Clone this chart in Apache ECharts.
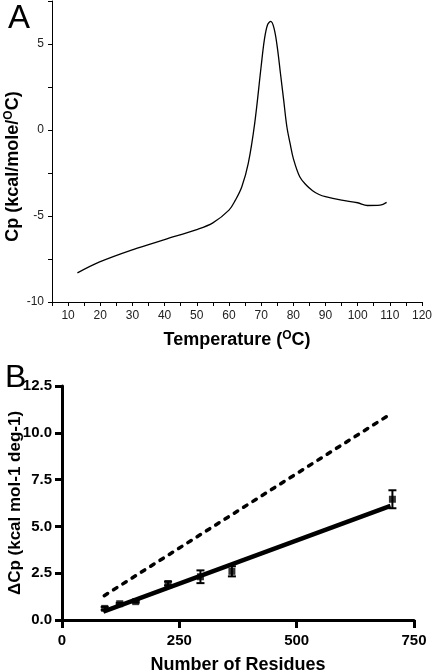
<!DOCTYPE html>
<html>
<head>
<meta charset="utf-8">
<script src="https://cdn.jsdelivr.net/npm/echarts@6/dist/echarts.min.js"></script>
<style>html,body{margin:0;padding:0;background:#fff}#c{width:432px;height:672px}</style>
</head>
<body>
<div id="c"></div>
<script>
// Panel A: DSC thermogram
const tempA = [12.9, 19.8, 30.2, 40, 50, 55, 60, 62, 64, 66, 68, 70, 71, 72, 73, 74, 75, 76, 77, 78, 79, 80, 82, 84, 86, 88, 90, 95, 100, 103, 107, 109];
const cpA   = [-8.31, -7.67, -6.95, -6.37, -5.79, -5.40, -4.66, -4.08, -3.30, -1.94, 0.39, 3.69, 5.24, 6.12, 6.31, 5.92, 4.85, 3.30, 1.75, 0.19, -0.78, -1.65, -2.72, -3.20, -3.53, -3.75, -3.88, -4.08, -4.23, -4.39, -4.37, -4.21];

// Panel B: ΔCp vs number of residues
const residues = [91, 123, 157, 226, 295, 362, 704];
const dCp      = [0.62, 0.87, 0.98, 1.95, 2.31, 2.60, 6.45];
const dCpErr   = [0.08, 0.05, 0.05, 0.10, 0.34, 0.27, 0.48];
const fitSolidX = [88, 700];
const fitSolidY = [0.45, 6.10];
const fitDashX  = [90, 703];
const fitDashY  = [1.30, 11.05];

// tick settings
const xTicksA = {min: 5, max: 120, step: 5};
const yTicksA = {min: -10, max: 7.5, step: 2.5};
const xTicksB = {min: 0, max: 750, step: 250};
const yTicksB = {min: 0, max: 12.5, step: 2.5};

const FONT = 'Liberation Sans';
const chart = echarts.init(document.getElementById('c'));

const zip = (a, b) => a.map((v, i) => [v, b[i]]);

chart.setOption({
  animation: false,
  title: [
    {text: 'A', left: 3, top: -3, textStyle: {fontFamily: FONT, fontSize: 33, fontWeight: 'normal', color: '#000'}},
    {text: 'B', left: 0, top: 357, textStyle: {fontFamily: FONT, fontSize: 32, fontWeight: 'normal', color: '#000'}}
  ],
  grid: [
    {left: 52, top: 1, width: 370, height: 301, containLabel: false, outerBoundsMode: 'none'},
    {left: 62, top: 386, width: 352, height: 234, containLabel: false, outerBoundsMode: 'none'}
  ],
  xAxis: [
    {
      gridIndex: 0, type: 'value', min: xTicksA.min, max: xTicksA.max, interval: xTicksA.step,
      name: 'Temperature ({s|O}C)', nameLocation: 'middle', nameGap: 28,
      nameTextStyle: {fontFamily: FONT, fontSize: 18, fontWeight: 'bold', color: '#000',
        rich: {s: {fontFamily: FONT, fontSize: 12, fontWeight: 'bold', color: '#000', verticalAlign: 'top', padding: [0, 0, 8, 0]}}},
      axisLine: {onZero: false, lineStyle: {color: '#000', width: 1}},
      axisTick: {show: true, length: 4, lineStyle: {color: '#000', width: 1}},
      axisLabel: {fontFamily: FONT, fontSize: 12, color: '#222', margin: 8,
        formatter: v => (v % 10 === 0 ? String(v) : '')},
      splitLine: {show: false}
    },
    {
      gridIndex: 1, type: 'value', min: xTicksB.min, max: xTicksB.max, interval: xTicksB.step,
      name: 'Number of Residues', nameLocation: 'middle', nameGap: 36,
      nameTextStyle: {fontFamily: FONT, fontSize: 18, fontWeight: 'bold', color: '#000'},
      axisLine: {onZero: false, lineStyle: {color: '#000', width: 3}},
      axisTick: {show: true, length: 8, lineStyle: {color: '#000', width: 3}},
      axisLabel: {fontFamily: FONT, fontSize: 15, fontWeight: 'bold', color: '#000', margin: 13},
      splitLine: {show: false}
    }
  ],
  yAxis: [
    {
      gridIndex: 0, type: 'value', min: yTicksA.min, max: yTicksA.max, interval: yTicksA.step,
      name: 'Cp (kcal/mole/{s|O}C)', nameLocation: 'middle', nameGap: 29, nameMoveOverlap: false,
      nameTextStyle: {fontFamily: FONT, fontSize: 18, fontWeight: 'bold', color: '#000', padding: [0, 30, 0, 0],
        rich: {s: {fontFamily: FONT, fontSize: 12, fontWeight: 'bold', color: '#000', verticalAlign: 'top', padding: [0, 0, 8, 0]}}},
      axisLine: {show: true, onZero: false, lineStyle: {color: '#000', width: 1}},
      axisTick: {show: true, length: 4, lineStyle: {color: '#000', width: 1}},
      axisLabel: {fontFamily: FONT, fontSize: 12, color: '#222', margin: 8,
        formatter: v => (v % 5 === 0 ? String(v) : '')},
      splitLine: {show: false}
    },
    {
      gridIndex: 1, type: 'value', min: yTicksB.min, max: yTicksB.max, interval: yTicksB.step,
      name: 'ΔCp (kcal mol-1 deg-1)', nameLocation: 'middle', nameGap: 38, nameMoveOverlap: false,
      nameTextStyle: {fontFamily: FONT, fontSize: 17, fontWeight: 'bold', color: '#000'},
      axisLine: {show: true, onZero: false, lineStyle: {color: '#000', width: 3}},
      axisTick: {show: true, length: 7, lineStyle: {color: '#000', width: 3}},
      axisLabel: {fontFamily: FONT, fontSize: 15, fontWeight: 'bold', color: '#000', margin: 10,
        formatter: v => v.toFixed(1)},
      splitLine: {show: false}
    }
  ],
  series: [
    {
      type: 'line', xAxisIndex: 0, yAxisIndex: 0, data: zip(tempA, cpA),
      smooth: 0.35, showSymbol: false, lineStyle: {color: '#000', width: 1.3}
    },
    {
      type: 'line', xAxisIndex: 1, yAxisIndex: 1, data: zip(fitDashX, fitDashY),
      showSymbol: false, lineStyle: {color: '#000', width: 3.5, type: [4, 7], cap: 'round'}
    },
    {
      type: 'line', xAxisIndex: 1, yAxisIndex: 1, data: zip(fitSolidX, fitSolidY),
      showSymbol: false, lineStyle: {color: '#000', width: 4.5}
    },
    {
      type: 'custom', xAxisIndex: 1, yAxisIndex: 1,
      data: residues.map((r, i) => [r, dCp[i], dCpErr[i]]),
      renderItem: function (params, api) {
        const x = api.value(0), y = api.value(1), e = api.value(2);
        const top = api.coord([x, y + e]);
        const bot = api.coord([x, y - e]);
        const w = 4;
        const st = {stroke: '#000', lineWidth: 2};
        return {type: 'group', children: [
          {type: 'line', shape: {x1: top[0], y1: top[1], x2: bot[0], y2: bot[1]}, style: st},
          {type: 'line', shape: {x1: top[0] - w, y1: top[1], x2: top[0] + w, y2: top[1]}, style: st},
          {type: 'line', shape: {x1: bot[0] - w, y1: bot[1], x2: bot[0] + w, y2: bot[1]}, style: st}
        ]};
      },
      z: 3
    },
    {
      type: 'scatter', xAxisIndex: 1, yAxisIndex: 1, data: zip(residues, dCp),
      symbol: 'rect', symbolSize: 7, itemStyle: {color: '#000'}, z: 4
    }
  ]
});
</script>
</body>
</html>
